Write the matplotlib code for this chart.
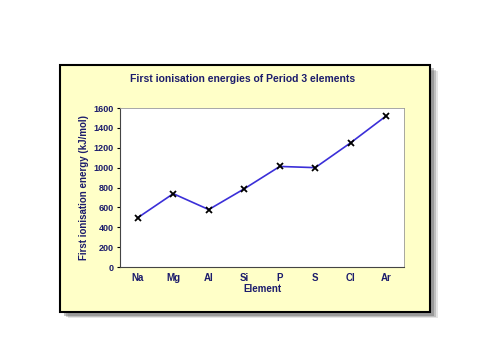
import matplotlib.pyplot as plt
from matplotlib.patches import Rectangle

elements = ["Na", "Mg", "Al", "Si", "P", "S", "Cl", "Ar"]
energies = [496, 738, 578, 787, 1012, 1000, 1251, 1521]
yticks = [0, 200, 400, 600, 800, 1000, 1200, 1400, 1600]

navy = "#1c1c6c"
plt.rcParams["font.family"] = ["Liberation Sans", "DejaVu Sans"]
plt.rcParams["font.weight"] = "bold"
plt.rcParams["axes.labelweight"] = "bold"

fig = plt.figure(figsize=(5, 3.53), dpi=100)
fig.patch.set_facecolor("white")

# shadow + yellow panel
for i, a in enumerate([0.15, 0.25, 0.35]):
    off = 0.004 * (3 - i)
    fig.patches.append(Rectangle((0.12 + off + 0.004, 0.116 - off - 0.006), 0.74, 0.70,
                                 transform=fig.transFigure, facecolor="#555555",
                                 edgecolor="none", alpha=a, zorder=0))
fig.patches.append(Rectangle((0.12, 0.116), 0.74, 0.70, transform=fig.transFigure,
                             facecolor="#ffffc8", edgecolor="black", linewidth=1.5,
                             zorder=1))

ax = fig.add_axes([0.24, 0.2436, 0.568, 0.4504])
ax.set_zorder(2)
x = range(len(elements))
ax.plot(x, energies, color="#3b2fd8", linewidth=1.2, marker="x",
        markersize=5, markeredgecolor="black", markeredgewidth=1.3)

ax.set_xlim(-0.5, len(elements) - 0.5)
ax.set_ylim(0, 1600)
ax.set_yticks(yticks)
ax.set_xticks(list(x))
ax.set_xticklabels(elements)
ax.tick_params(axis="x", length=0, pad=4, labelsize=7, labelcolor=navy)
ax.tick_params(axis="y", length=2.5, width=0.8, pad=2, labelsize=6.5, labelcolor=navy)
for side in ["left", "bottom"]:
    ax.spines[side].set_color("#444444")
for side in ["top", "right"]:
    ax.spines[side].set_color("#999999")
    ax.spines[side].set_linewidth(0.6)

ax.set_xlabel("Element", fontsize=7, color=navy, fontweight="bold", labelpad=1)
ax.set_ylabel("First ionisation energy (kJ/mol)", fontsize=7, color=navy,
              fontweight="bold", labelpad=3)
fig.text(0.485, 0.776, "First ionisation energies of Period 3 elements",
         ha="center", va="center", fontsize=7.5, color=navy, fontweight="bold")

fig.savefig("out.png", dpi=100)
